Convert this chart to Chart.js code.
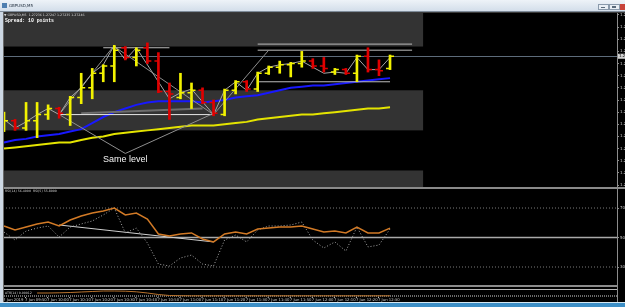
<!DOCTYPE html>
<html>
<head>
<meta charset="utf-8">
<script src="https://cdn.jsdelivr.net/npm/chart.js@4.4.1/dist/chart.umd.min.js"></script>
<style>
  html, body { margin: 0; padding: 0; background: #000; }
  body { width: 625px; height: 307px; position: relative; overflow: hidden; }
  canvas { position: absolute; left: 0; }
  #main { top: 13px; }
  #rsi { top: 189px; }
  #sub { top: 285px; }
  #frame { top: 0; z-index: 2; pointer-events: none; }
</style>
</head>
<body>
<canvas id="main" width="625" height="174"></canvas>
<canvas id="rsi" width="625" height="96"></canvas>
<canvas id="sub" width="625" height="17"></canvas>
<canvas id="frame" width="625" height="307"></canvas>
<script>
// GBPUSD M5, 7 Jun 2019
const timeLabels = ['7 Jun 2019', '7 Jun 09:50', '7 Jun 10:00', '7 Jun 10:10', '7 Jun 10:20', '7 Jun 10:30',
  '7 Jun 10:40', '7 Jun 10:50', '7 Jun 11:00', '7 Jun 11:10', '7 Jun 11:20', '7 Jun 11:30',
  '7 Jun 11:40', '7 Jun 11:50', '7 Jun 12:00', '7 Jun 12:10', '7 Jun 12:20', '7 Jun 12:30'];

const opens = [1.27188, 1.27193, 1.27187, 1.27193, 1.27198, 1.27203, 1.27198, 1.27212, 1.27220, 1.27232,
  1.27238, 1.27253, 1.27245, 1.27253, 1.27242, 1.27217, 1.27212, 1.27216, 1.27218, 1.27208,
  1.27198, 1.27218, 1.27225, 1.27219, 1.27232, 1.27237, 1.27239, 1.27240, 1.27242, 1.27238,
  1.27233, 1.27235, 1.27232, 1.27246, 1.27235, 1.27236];
const highs = [1.27200, 1.27194, 1.27208, 1.27208, 1.27206, 1.27204, 1.27213, 1.27232, 1.27236, 1.27239,
  1.27255, 1.27254, 1.27253, 1.27257, 1.27249, 1.27224, 1.27232, 1.27224, 1.27220, 1.27210,
  1.27219, 1.27226, 1.27226, 1.27233, 1.27238, 1.27242, 1.27241, 1.27250, 1.27244, 1.27245,
  1.27236, 1.27236, 1.27247, 1.27253, 1.27243, 1.27247];
const lows = [1.27184, 1.27185, 1.27185, 1.27179, 1.27194, 1.27195, 1.27189, 1.27207, 1.27211, 1.27225,
  1.27225, 1.27243, 1.27238, 1.27240, 1.27216, 1.27194, 1.27211, 1.27203, 1.27207, 1.27197,
  1.27197, 1.27215, 1.27217, 1.27217, 1.27231, 1.27232, 1.27229, 1.27237, 1.27236, 1.27233,
  1.27231, 1.27231, 1.27225, 1.27233, 1.27230, 1.27235];
const closes = [1.27193, 1.27187, 1.27193, 1.27198, 1.27203, 1.27199, 1.27212, 1.27220, 1.27232, 1.27238,
  1.27251, 1.27245, 1.27251, 1.27242, 1.27217, 1.27215, 1.27216, 1.27218, 1.27208, 1.27199,
  1.27218, 1.27225, 1.27219, 1.27232, 1.27237, 1.27239, 1.27240, 1.27242, 1.27238, 1.27236,
  1.27235, 1.27232, 1.27246, 1.27235, 1.27234, 1.27246];

// grey zigzag drawn over the bars (gaps where it skips bars)
const zigzag = [1.27194, 1.27187, 1.27192, 1.27198, 1.27203, 1.27198, 1.27212, 1.27220, 1.27232, 1.27239,
  1.27255, 1.27243, 1.27253, null, null, 1.27211, 1.27216, 1.27219, null, 1.27198,
  1.27218, 1.27225, 1.27218, 1.27232, 1.27237, 1.27239, 1.27240, 1.27242, 1.27237, 1.27232,
  1.27233, 1.27232, 1.27245, 1.27235, 1.27235, 1.27245];

const maBlue = [1.27175, 1.27177, 1.27178, 1.27180, 1.27181, 1.27182, 1.27184, 1.27186, 1.27191, 1.27196,
  1.27200, 1.27203, 1.27206, 1.27208, 1.27209, 1.27209, 1.27209, 1.27209, 1.27208, 1.27209,
  1.27210, 1.27212, 1.27213, 1.27214, 1.27216, 1.27218, 1.27220, 1.27221, 1.27222, 1.27222,
  1.27223, 1.27224, 1.27225, 1.27226, 1.27227, 1.27228];
const maYellow = [1.27170, 1.27171, 1.27172, 1.27173, 1.27174, 1.27175, 1.27175, 1.27177, 1.27179, 1.27180,
  1.27182, 1.27183, 1.27184, 1.27185, 1.27186, 1.27187, 1.27188, 1.27189, 1.27189, 1.27189,
  1.27190, 1.27191, 1.27192, 1.27194, 1.27195, 1.27196, 1.27197, 1.27198, 1.27198, 1.27199,
  1.27200, 1.27201, 1.27202, 1.27203, 1.27203, 1.27204];

const priceTicks = [1.2714, 1.2715, 1.2716, 1.2717, 1.2718, 1.2719, 1.2720, 1.2721,
  1.2722, 1.2723, 1.2724, 1.2725, 1.2726, 1.2727, 1.2728];

// chart objects: [bar0, price0, bar1, price1]
const trendLines = [
  [5, 1.27198, 11, 1.27166],
  [11, 1.27166, 19, 1.27199],
  [19, 1.27198, 24, 1.27251],
  [10, 1.27254, 19, 1.27198],
  [5, 1.27198, 10, 1.27255]
];
// [bar0, bar1, price]
const levelLines = [
  [9, 15, 1.27253],
  [23, 37, 1.27256],
  [23, 37, 1.27251],
  [23, 35, 1.27225],
  [5, 19, 1.27198]
];
const greyLevel = [7, 1.27199, 18, 1.27203];
// rectangles: [low, high], all ending at bar 38
const bands = [[1.27254, 1.27300], [1.27185, 1.27218], [1.27138, 1.27152]];
const bandEnd = 38;
const sameLevel = { bar: 11, price: 1.27161, text: 'Same level' };

const rsiSlow = [57.8, 55.1, 57.1, 59.2, 60.5, 57.8, 61.9, 64.6, 66.6, 68.0,
  70.0, 65.3, 66.6, 62.5, 52.4, 51.0, 52.4, 53.1, 49.0, 47.0,
  52.4, 53.7, 52.4, 55.8, 56.4, 57.1, 57.1, 57.8, 55.8, 53.7,
  54.4, 53.1, 57.1, 53.1, 53.1, 56.4];
const rsiFast = [53.7, 48.3, 54.4, 56.4, 57.8, 50.3, 57.1, 59.2, 61.2, 65.3,
  70.0, 53.1, 56.4, 46.3, 32.0, 30.7, 36.1, 38.1, 32.0, 30.7,
  48.3, 51.7, 47.0, 55.1, 57.8, 57.8, 58.5, 60.5, 48.3, 42.9,
  47.0, 40.8, 57.1, 43.6, 44.9, 55.8];
const rsiLevels = [30, 50, 70];
const rsiTrend = [5, 58.5, 19, 47.0];

const subValues = [null, null, null, 4, 4, 4.2, 4.5, 5, 5.5, 6,
  6, 5.8, 5.2, 4, 2.5, 1.5, 1.3, 1.2, 1.2, 1.2,
  1.2, 1.2, 1.2, 1.2, 1.2, 1.2, 1.2, 1.2, 1.2, 1.2,
  1.2, 1.2, 1.2, 1.2, 1.2, 1.2];
const subLevel = 1;

const UP = '#f2f200', DOWN = '#e00000';
const xMin = -0.363, xMax = 55.58;

Chart.defaults.font.family = '"DejaVu Sans", sans-serif';
Chart.defaults.animation = false;
Chart.defaults.responsive = false;
Chart.defaults.devicePixelRatio = 1;
Chart.defaults.events = [];
Chart.defaults.elements.point.radius = 0;
Chart.defaults.elements.line.tension = 0;
Chart.defaults.plugins.legend.display = false;
Chart.defaults.plugins.tooltip.enabled = false;

const pts = arr => arr.map((v, i) => ({ x: i, y: v }));
const seg = (x0, y0, x1, y1) => [{ x: x0, y: y0 }, { x: x1, y: y1 }];

function xAxis() {
  return {
    type: 'linear', min: xMin, max: xMax, display: false, offset: false,
    afterBuildTicks: s => { s.ticks = timeLabels.map((t, i) => ({ value: i * 2 })); }
  };
}
function yAxis(min, max, ticks, fmt) {
  return {
    position: 'right', min, max,
    afterBuildTicks: s => { s.ticks = ticks.map(v => ({ value: v })); },
    afterFit: s => { s.width = 8; s.paddingTop = 0; s.paddingBottom = 0; },
    grid: { drawOnChartArea: false, color: '#8c8c8c', tickLength: 2 },
    border: { color: '#8c8c8c' },
    ticks: { display: ticks.length > 0, color: '#c8c8c8', font: { size: 4 }, padding: 1, autoSkip: false, callback: fmt }
  };
}

// bands and the current price line under the bars
const backdrop = {
  id: 'backdrop',
  beforeDatasetsDraw(chart) {
    const { ctx, chartArea: a, scales: { x, y } } = chart;
    ctx.save();
    ctx.beginPath(); ctx.rect(a.left, a.top, a.width, a.height); ctx.clip();
    ctx.fillStyle = '#333333';
    const xr = x.getPixelForValue(bandEnd);
    bands.forEach(([lo, hi]) => {
      const t = y.getPixelForValue(hi), b = y.getPixelForValue(lo);
      ctx.fillRect(a.left, t, xr - a.left, b - t);
    });
    const yp = Math.round(y.getPixelForValue(closes[closes.length - 1])) + 0.5;
    ctx.strokeStyle = '#5d6b7a'; ctx.lineWidth = 1;
    ctx.beginPath(); ctx.moveTo(a.left, yp); ctx.lineTo(a.right, yp); ctx.stroke();
    ctx.restore();
  }
};

// open / close ticks, texts, price box
const ohlcTicks = {
  id: 'ohlcTicks',
  afterDatasetsDraw(chart) {
    const { ctx, chartArea: a, scales: { x, y } } = chart;
    ctx.save();
    ctx.lineWidth = 1.5;
    opens.forEach((o, i) => {
      const px = x.getPixelForValue(i);
      const yo = y.getPixelForValue(o), yc = y.getPixelForValue(closes[i]);
      ctx.strokeStyle = closes[i] >= o ? UP : DOWN;
      ctx.beginPath();
      ctx.moveTo(px - 4, yo); ctx.lineTo(px, yo);
      ctx.moveTo(px, yc); ctx.lineTo(px + 4, yc);
      ctx.stroke();
    });

    ctx.fillStyle = '#f4f4f4';
    ctx.font = '9px "Liberation Sans", sans-serif';
    ctx.textAlign = 'center'; ctx.textBaseline = 'middle';
    ctx.fillText(sameLevel.text, x.getPixelForValue(sameLevel.bar), y.getPixelForValue(sameLevel.price));

    const n = closes.length - 1;
    ctx.textAlign = 'left'; ctx.textBaseline = 'top';
    ctx.fillStyle = '#d8d8d8';
    ctx.font = '3.2px "DejaVu Sans", sans-serif';
    ctx.fillText('\u25BC GBPUSD,M5  ' + [opens[n], highs[n], lows[n], closes[n]].map(v => v.toFixed(5)).join(' '), 4, 1);
    ctx.fillStyle = '#ffffff';
    ctx.font = 'bold 4.8px "Liberation Mono", monospace';
    ctx.fillText('Spread: 10 points', 5, 5);

    const yp = y.getPixelForValue(closes[n]);
    ctx.fillStyle = '#d0d0d0';
    ctx.fillRect(a.right + 1, yp - 2.5, 8, 5);
    ctx.fillStyle = '#000';
    ctx.font = '4px "DejaVu Sans", sans-serif';
    ctx.textBaseline = 'middle';
    ctx.fillText(closes[n].toFixed(5), a.right + 2, yp);
    ctx.restore();
  }
};

const lineDs = (data, color, width, extra) => Object.assign({ data, borderColor: color, borderWidth: width, fill: false }, extra || {});

new Chart(document.getElementById('main'), {
  type: 'line',
  data: {
    datasets: [
      { type: 'bar', data: highs.map((h, i) => ({ x: i, y: [lows[i], h] })),
        backgroundColor: closes.map((c, i) => c >= opens[i] ? UP : DOWN),
        barThickness: 2, grouped: false, borderWidth: 0, order: 1 },
      lineDs(pts(zigzag), '#a6a6a6', 1, { spanGaps: true, order: 2 }),
      ...trendLines.map(t => lineDs(seg(...t), '#8f8f8f', 1, { order: 3 })),
      ...levelLines.map(l => lineDs(seg(l[0], l[2], l[1], l[2]), l[0] === 5 ? '#e6e6e6' : '#bdbdbd', 1, { order: 3 })),
      lineDs(seg(...greyLevel), '#6e6e6e', 2, { order: 3 }),
      lineDs(pts(maBlue), '#1818ff', 2, { order: 4 }),
      lineDs(pts(maYellow), '#e4e400', 2, { order: 4 })
    ]
  },
  options: {
    layout: { padding: 0 },
    scales: {
      x: xAxis(),
      y: yAxis(1.271384, 1.272816, priceTicks, v => v.toFixed(5))
    }
  },
  plugins: [backdrop, ohlcTicks]
});

const rsiText = {
  id: 'rsiText',
  afterDraw(chart) {
    const ctx = chart.ctx;
    ctx.save();
    ctx.fillStyle = '#cfcfcf';
    ctx.font = '3.2px "DejaVu Sans", sans-serif';
    ctx.textBaseline = 'top';
    ctx.fillText('RSI(14) ' + rsiSlow[rsiSlow.length - 1].toFixed(4) + '  RSI(5) ' + rsiFast[rsiFast.length - 1].toFixed(4), 5, 1);
    ctx.restore();
  }
};

new Chart(document.getElementById('rsi'), {
  type: 'line',
  data: {
    datasets: [
      lineDs(pts(rsiSlow), '#d27a26', 1.5, { order: 1 }),
      lineDs(pts(rsiFast), '#a8a8a8', 1, { borderDash: [1, 2], order: 2 }),
      lineDs(seg(...rsiTrend), '#cfcfcf', 1, { order: 3 }),
      ...rsiLevels.map(l => lineDs(seg(xMin, l, xMax, l), l === 50 ? '#a9a9a9' : '#7a7a7a', l === 50 ? 1.5 : 1,
        { borderDash: l === 50 ? [] : [1, 2], order: 4 }))
    ]
  },
  options: {
    layout: { padding: 0 },
    scales: { x: xAxis(), y: yAxis(17.8, 82.9, rsiLevels, v => v.toFixed(0)) }
  },
  plugins: [rsiText]
});

// indicator name and the time labels along the bottom, placed with the x scale
const subText = {
  id: 'subText',
  afterDraw(chart) {
    const { ctx, chartArea: a, scales: { x } } = chart;
    ctx.save();
    ctx.fillStyle = '#cfcfcf';
    ctx.font = '3.2px "DejaVu Sans", sans-serif';
    ctx.textBaseline = 'top';
    ctx.fillText('ATR(14) 0.00012', 5, 7);
    ctx.fillStyle = '#c8c8c8';
    ctx.strokeStyle = '#a0a0a0';
    ctx.font = '3.8px "DejaVu Sans", sans-serif';
    x.ticks.forEach((t, i) => {
      const px = x.getPixelForValue(t.value);
      ctx.fillRect(px - 1, 12, 1, 1);
      ctx.fillText(timeLabels[i], px - 1, 12.8);
    });
    ctx.restore();
  }
};

new Chart(document.getElementById('sub'), {
  type: 'line',
  data: {
    datasets: [
      lineDs(pts(subValues), '#b8722c', 1, { order: 1 }),
      lineDs(seg(xMin, subLevel, xMax, subLevel), '#d8d8d8', 1, { borderDash: [1, 1], order: 2 })
    ]
  },
  options: {
    layout: { padding: 0 },
    scales: { x: xAxis(), y: yAxis(-5, 12, [], v => '') }
  },
  plugins: [subText]
});

// window frame around the chart
const f = document.getElementById('frame').getContext('2d');
const g = f.createLinearGradient(0, 0, 0, 11);
g.addColorStop(0, '#eef3f8');
g.addColorStop(1, '#d3deea');
f.fillStyle = g; f.fillRect(0, 0, 625, 11);
f.fillStyle = '#7f8c9a'; f.fillRect(0, 11, 625, 1);
f.fillStyle = '#3a3a3a'; f.fillRect(0, 12, 625, 1);
f.fillStyle = '#4f7fb0'; f.fillRect(2, 3, 5, 5);
f.fillStyle = '#1d2b3a';
f.font = '4px "DejaVu Sans", sans-serif';
f.textBaseline = 'middle';
f.fillText('GBPUSD,M5', 9, 6);
f.fillStyle = '#8a9aab'; f.fillRect(598, 4, 11, 6); f.fillRect(609, 4, 11, 6);
f.fillStyle = '#e8eef4'; f.fillRect(599, 5, 9, 4); f.fillRect(610, 5, 9, 4);
f.fillStyle = '#5a6a7a'; f.fillRect(601, 7, 4, 1); f.fillRect(612, 6, 4, 2);
f.fillStyle = '#c8443a'; f.fillRect(620, 4, 5, 6);
f.fillStyle = '#cdd8e4'; f.fillRect(0, 12, 3, 291);
f.fillStyle = '#6a6a6a'; f.fillRect(3, 12, 1, 291);
f.fillStyle = '#8a8a8a'; f.fillRect(4, 187, 621, 2);
f.fillStyle = '#8c8c8c'; f.fillRect(4, 285, 613, 2);
f.fillStyle = '#b8b8b8'; f.fillRect(4, 289, 613, 1);
f.fillStyle = '#d5e8f2'; f.fillRect(0, 302, 625, 1);
f.fillStyle = '#3d8fc6'; f.fillRect(0, 303, 625, 4);
</script>
</body>
</html>
